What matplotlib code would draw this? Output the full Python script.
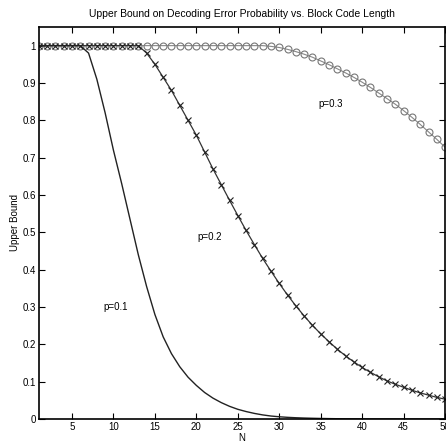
import numpy as np
import matplotlib
matplotlib.use("Agg")
import matplotlib.pyplot as plt

plt.rcParams['font.family'] = ['Liberation Sans', 'DejaVu Sans']

N = np.arange(1, 51)

# values
p1 = [1.0, 1.0, 1.0, 1.0, 1.0, 1.0, 0.98, 0.91, 0.82, 0.72,
      0.63, 0.535, 0.44, 0.355, 0.28, 0.22, 0.175, 0.14, 0.112, 0.09,
      0.071, 0.056, 0.044, 0.034, 0.026, 0.02, 0.015, 0.011, 0.008, 0.006,
      0.0045, 0.0034, 0.0026, 0.002, 0.0015, 0.0011, 0.0008, 0.0006, 0.0005, 0.0004,
      0.0003, 0.0002, 0.0002, 0.0001, 0.0001, 0.0001, 0.0, 0.0, 0.0, 0.0]
p2 = [1.0] * 13 + [0.98, 0.95, 0.915, 0.88, 0.84, 0.80, 0.76, 0.715, 0.67,
      0.628, 0.586, 0.545, 0.505, 0.467, 0.43, 0.396, 0.363, 0.332, 0.303,
      0.276, 0.251, 0.228, 0.207, 0.187, 0.169, 0.153, 0.138, 0.125, 0.113,
      0.102, 0.093, 0.085, 0.077, 0.07, 0.064, 0.058, 0.053]
p3 = [1.0] * 28 + [0.998, 0.995, 0.99, 0.984, 0.977, 0.969, 0.959, 0.949, 0.938,
      0.927, 0.915, 0.902, 0.888, 0.873, 0.858, 0.843, 0.826, 0.808, 0.789,
      0.769, 0.749, 0.728]

fig = plt.figure(figsize=(4.46, 4.42), dpi=100)
ax = fig.add_axes([0.087, 0.052, 0.911, 0.887])

ax.plot(N, p3, color="#888888", lw=0.8, marker="o", ms=5, mfc="none", mec="#777777", mew=0.8)
ax.plot(N, p2, color="#333333", lw=0.9, marker="x", ms=4, mec="#222222", mew=0.8)
ax.plot(N, p1, color="#222222", lw=1.0)

ax.text(8.8, 0.3, "p=0.1", fontsize=7, va="center")
ax.text(20.1, 0.487, "p=0.2", fontsize=7, va="center")
ax.text(34.7, 0.845, "p=0.3", fontsize=7, va="center")

ax.set_xlim(1, 50)
ax.set_ylim(0, 1.05)
ax.set_xticks(np.arange(5, 51, 5))
ax.set_yticks(np.arange(0, 1.01, 0.1))
ax.set_yticklabels(["0", "0.1", "0.2", "0.3", "0.4", "0.5", "0.6", "0.7", "0.8", "0.9", "1"])
ax.tick_params(direction="in", top=True, right=True, labelsize=7, length=4, width=0.8, pad=2)
for s in ax.spines.values():
    s.set_linewidth(1.2)

ax.set_xlabel("N", fontsize=7, labelpad=1)
ax.set_ylabel("Upper Bound", fontsize=7, labelpad=2)
ax.set_title("Upper Bound on Decoding Error Probability vs. Block Code Length", fontsize=7.5, pad=7)

fig.savefig("out.png", dpi=100)
